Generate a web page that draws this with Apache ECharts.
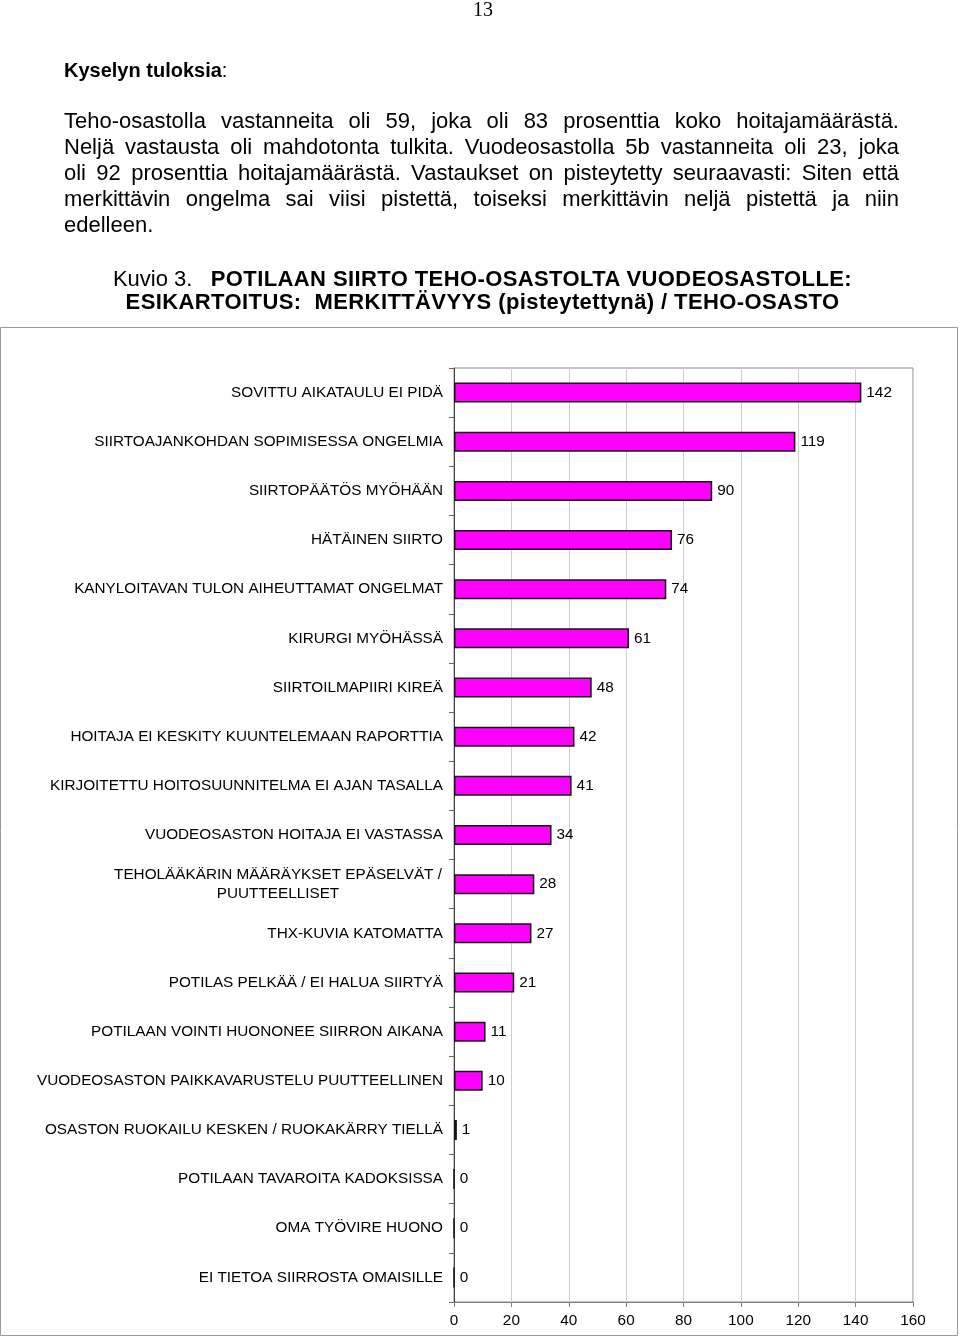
<!DOCTYPE html>
<html><head><meta charset="utf-8">
<script src="https://cdn.jsdelivr.net/npm/echarts@6/dist/echarts.min.js"></script>
<style>
html,body{margin:0;padding:0;background:#fff;}
body{width:960px;height:1337px;position:relative;overflow:hidden;font-family:"Liberation Sans",Arial,sans-serif;color:#000;}
#chart{position:absolute;left:0;top:0;width:960px;height:1337px;}
.t{position:absolute;white-space:nowrap;font-size:20px;line-height:26px;}
.p{position:absolute;left:64px;width:835px;font-size:22px;line-height:26px;white-space:nowrap;text-align:justify;text-align-last:justify;}
.c{position:absolute;left:0;width:965px;text-align:center;font-size:22px;line-height:26px;white-space:pre;}
.c b{letter-spacing:0.4px;}
</style>
</head><body>
<div id="chart"></div>
<div class="t" style="left:473px;top:-4px;font-family:'Liberation Serif','Times New Roman',serif;">13</div>
<div class="t" style="left:64px;top:57px;"><b>Kyselyn tuloksia</b>:</div>
<div class="p" style="top:108px;">Teho-osastolla vastanneita oli 59, joka oli 83 prosenttia koko hoitajamäärästä.</div>
<div class="p" style="top:134px;">Neljä vastausta oli mahdotonta tulkita. Vuodeosastolla 5b vastanneita oli 23, joka</div>
<div class="p" style="top:160px;">oli 92 prosenttia hoitajamäärästä. Vastaukset on pisteytetty seuraavasti: Siten että</div>
<div class="p" style="top:186px;">merkittävin ongelma sai viisi pistettä, toiseksi merkittävin neljä pistettä ja niin</div>
<div class="p" style="top:212px;text-align:left;text-align-last:left;">edelleen.</div>
<div class="c" style="top:266px;">Kuvio 3.   <b>POTILAAN SIIRTO TEHO-OSASTOLTA VUODEOSASTOLLE:</b></div>
<div class="c" style="top:289px;"><b>ESIKARTOITUS:  MERKITTÄVYYS (pisteytettynä) / TEHO-OSASTO</b></div>
<script>
const categories = [
  "SOVITTU AIKATAULU EI PIDÄ",
  "SIIRTOAJANKOHDAN SOPIMISESSA ONGELMIA",
  "SIIRTOPÄÄTÖS MYÖHÄÄN",
  "HÄTÄINEN SIIRTO",
  "KANYLOITAVAN TULON AIHEUTTAMAT ONGELMAT",
  "KIRURGI MYÖHÄSSÄ",
  "SIIRTOILMAPIIRI KIREÄ",
  "HOITAJA EI KESKITY KUUNTELEMAAN RAPORTTIA",
  "KIRJOITETTU HOITOSUUNNITELMA EI AJAN TASALLA",
  "VUODEOSASTON HOITAJA EI VASTASSA",
  "TEHOLÄÄKÄRIN MÄÄRÄYKSET EPÄSELVÄT /\nPUUTTEELLISET",
  "THX-KUVIA KATOMATTA",
  "POTILAS PELKÄÄ / EI HALUA SIIRTYÄ",
  "POTILAAN VOINTI HUONONEE SIIRRON AIKANA",
  "VUODEOSASTON PAIKKAVARUSTELU PUUTTEELLINEN",
  "OSASTON RUOKAILU KESKEN / RUOKAKÄRRY TIELLÄ",
  "POTILAAN TAVAROITA KADOKSISSA",
  "OMA TYÖVIRE HUONO",
  "EI TIETOA SIIRROSTA OMAISILLE"
];
const values = [142, 119, 90, 76, 74, 61, 48, 42, 41, 34, 28, 27, 21, 11, 10, 1, 0, 0, 0];
const xMin = 0, xMax = 160, xStep = 20;

const FONT = "'Liberation Sans', Arial, sans-serif";
const FS = 15.3;
const chart = echarts.init(document.getElementById('chart'), null, {renderer: 'canvas'});
chart.setOption({
  animation: false,
  backgroundColor: 'transparent',
  graphic: [{
    type: 'rect', silent: true,
    shape: {x: 0.5, y: 327.5, width: 957, height: 1008},
    style: {fill: 'none', stroke: '#9a9a9a', lineWidth: 1}
  }],
  grid: {left: 454, right: 47, top: 368, bottom: 35, show: true, borderColor: '#888', borderWidth: 1, containLabel: false},
  xAxis: {
    type: 'value', min: xMin, max: xMax, interval: xStep,
    axisLine: {show: true, lineStyle: {color: '#808080', width: 1}},
    axisTick: {show: true, length: 5, lineStyle: {color: '#808080'}},
    splitLine: {show: true, lineStyle: {color: '#cfcfcf', width: 1}},
    axisLabel: {fontSize: FS, color: '#000', fontFamily: FONT, margin: 11}
  },
  yAxis: {
    type: 'category', data: categories, inverse: true,
    axisLine: {show: true, lineStyle: {color: '#444', width: 1}},
    axisTick: {show: true, length: 5, lineStyle: {color: '#666'}},
    splitLine: {show: false},
    axisLabel: {
      fontSize: FS, color: '#000', fontFamily: FONT, margin: 11, lineHeight: 19,
      formatter: function (v) {
        if (v.indexOf('\n') >= 0) {
          return v.split('\n').map(s => '{c|' + s + '}').join('\n');
        }
        return v;
      },
      rich: {c: {width: 330, align: 'center', fontSize: FS, color: '#000', fontFamily: FONT, lineHeight: 19}}
    }
  },
  series: [{
    type: 'bar', data: values, barWidth: 20,
    itemStyle: {color: '#ff00ff', borderColor: '#151515', borderWidth: 1.5},
    label: {show: true, position: 'right', distance: 5, fontSize: FS, color: '#000', fontFamily: FONT}
  }]
});
</script>
</body></html>
